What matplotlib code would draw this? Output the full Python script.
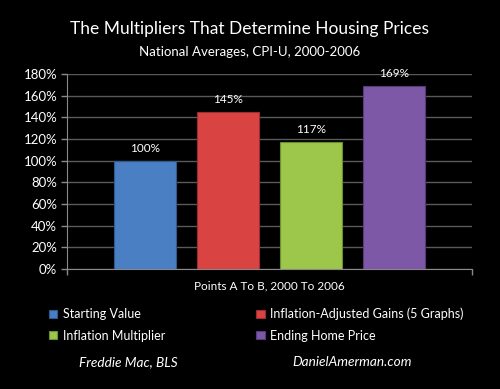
import matplotlib
matplotlib.use("Agg")
import matplotlib.pyplot as plt
from matplotlib.ticker import PercentFormatter

# chart data
categories = ["Starting Value", "Inflation-Adjusted Gains (5 Graphs)",
              "Inflation Multiplier", "Ending Home Price"]
values = [100, 145, 117, 169]
colors = ["#4a7fc3", "#d94443", "#9cc74a", "#7d58a6"]
edges = ["#2f5a8f", "#9c2e2d", "#6d8f30", "#563d79"]
yticks = [0, 20, 40, 60, 80, 100, 120, 140, 160, 180]

plt.rcParams["font.family"] = ["Lato", "DejaVu Sans"]

fig = plt.figure(figsize=(5, 3.89), dpi=100, facecolor="black")
ax = fig.add_axes([0.134, 0.3085, 0.81, 0.5013], facecolor="black")

xs = range(len(values))
bars = ax.bar(xs, values, width=0.75, color=colors, edgecolor=edges,
              linewidth=0.8, zorder=3)

for x, v in zip(xs, values):
    ax.annotate("{}%".format(v), xy=(x, v), xytext=(0, 5),
                textcoords="offset points", ha="center", va="bottom",
                color="white", fontsize=8.5)

ax.set_xlim(-0.94, 3.94)
ax.set_ylim(0, 180)
ax.set_yticks(yticks)
ax.yaxis.set_major_formatter(PercentFormatter(decimals=0))
ax.set_xticks([-0.94, 3.94])
ax.set_xticklabels([])
ax.grid(axis="y", color="#5a5a5a", linewidth=1, zorder=0)
ax.tick_params(axis="y", colors="#8a8a8a", labelcolor="white", labelsize=9.5,
               length=4, width=1, pad=3)
ax.tick_params(axis="x", colors="#8a8a8a", length=4, width=1)
for side in ["top", "right"]:
    ax.spines[side].set_visible(False)
for side in ["left", "bottom"]:
    ax.spines[side].set_color("#8a8a8a")

ax.set_xlabel("Points A To B, 2000 To 2006", color="white", fontsize=8.5,
              labelpad=1)

fig.text(0.5, 0.925, "The Multipliers That Determine Housing Prices",
         color="white", fontsize=12.5, ha="center", va="center")
fig.text(0.5, 0.866, "National Averages, CPI-U, 2000-2006",
         color="white", fontsize=9.5, ha="center", va="center")

order = [0, 2, 1, 3]
leg = fig.legend([bars[i] for i in order], [categories[i] for i in order],
                 ncol=2, loc="upper left", bbox_to_anchor=(0.088, 0.222),
                 frameon=False, fontsize=9, handlelength=0.65,
                 handleheight=0.65, handletextpad=0.45, columnspacing=7.3,
                 labelspacing=0.75, borderaxespad=0)
for t in leg.get_texts():
    t.set_color("white")

fig.text(0.256, 0.069, "Freddie Mac, BLS", color="white", fontsize=9.8,
         style="italic", ha="center", va="center")
fig.text(0.705, 0.069, "DanielAmerman.com", color="white", fontsize=9.8,
         style="italic", ha="center", va="center")

fig.savefig("out.png", dpi=100, facecolor="black")
